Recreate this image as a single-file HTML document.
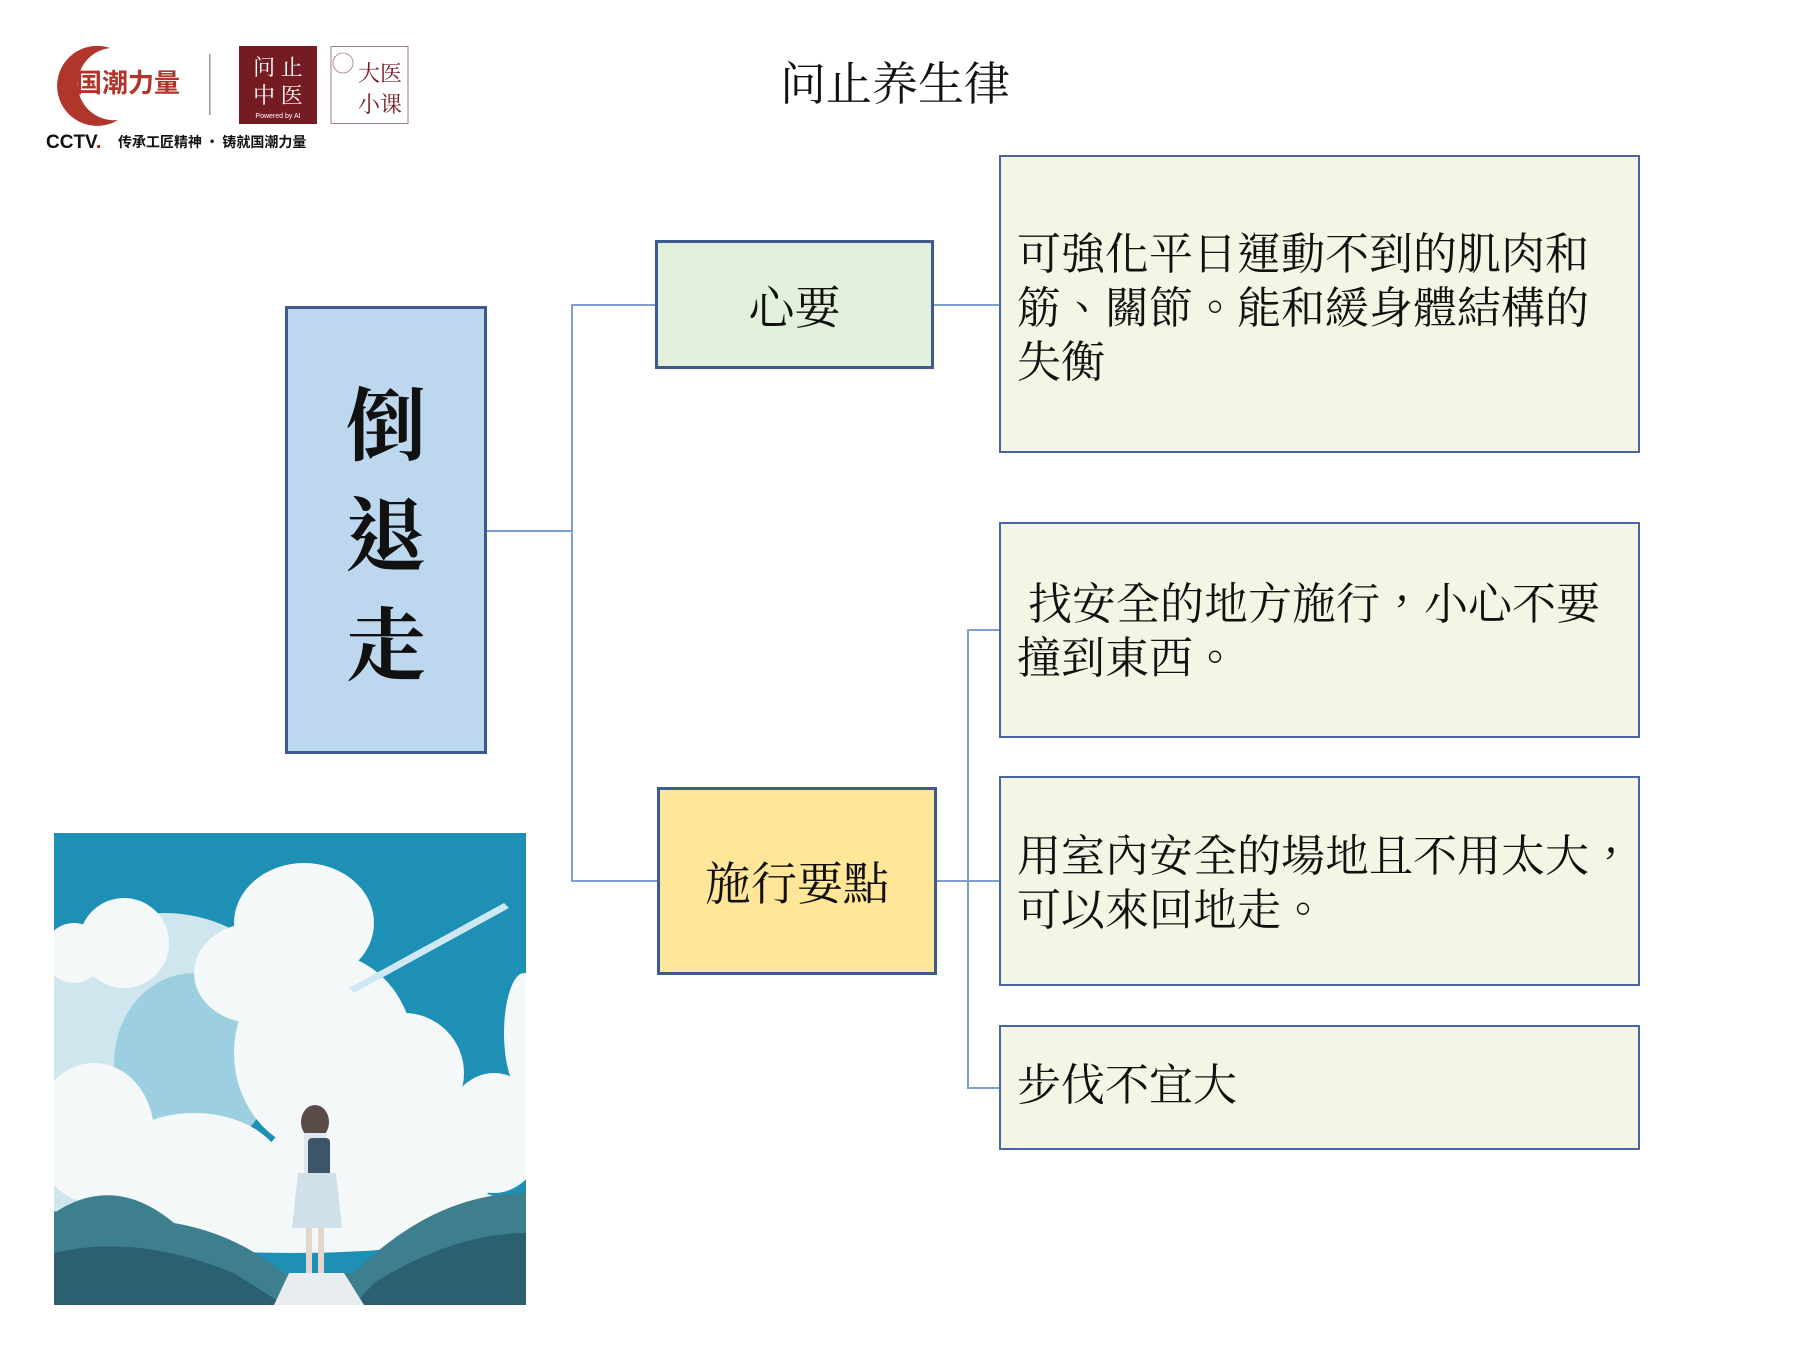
<!DOCTYPE html>
<html><head><meta charset="utf-8"><style>
body{margin:0;width:1800px;height:1350px;background:#fff;position:relative;overflow:hidden;font-family:"Liberation Serif","Noto Serif CJK TC",serif}
.a{position:absolute;box-sizing:border-box}
.box{border:3px solid #3c5a8c;display:flex;align-items:center;justify-content:center;font-size:46px;color:#111}
.r{border:2px solid #4a65a4;background:#f5f5e6;font-size:44px;line-height:54px;padding-left:16px;color:#111}
.ln{position:absolute;background:#7f9fd0}
</style></head><body>
<svg class="a" style="left:40px;top:40px" width="380" height="120" viewBox="0 0 380 120">
<path d="M70 8 A40 40 0 1 0 78 80 A34 34 0 1 1 70 8Z" fill="#b0352a"/>
<text x="36" y="52" font-size="26" font-weight="bold" fill="#b0352a" font-family="Noto Sans CJK SC,sans-serif">国潮力量</text>
<rect x="169" y="14" width="1.5" height="61" fill="#999"/>
<rect x="199" y="6" width="78" height="78" fill="#741c22"/>
<text x="238" y="35" font-size="22" fill="#fff" text-anchor="middle" font-family="Noto Serif CJK SC,serif">问 止</text>
<text x="238" y="63" font-size="22" fill="#fff" text-anchor="middle" font-family="Noto Serif CJK SC,serif">中 医</text>
<text x="238" y="78" font-size="7" fill="#fff" text-anchor="middle" font-family="Liberation Sans,sans-serif">Powered by AI</text>
<rect x="291" y="6.5" width="77" height="77" fill="#fff" stroke="#a57c80"/>
<text x="340" y="41" font-size="22" fill="#741c22" text-anchor="middle" font-family="Noto Serif CJK SC,serif">大医</text>
<text x="340" y="72" font-size="22" fill="#741c22" text-anchor="middle" font-family="Noto Serif CJK SC,serif">小课</text>
<circle cx="303" cy="23" r="10" fill="none" stroke="#a57c80" stroke-width="0.8"/>
<text x="6" y="108" font-size="19" font-weight="bold" fill="#111" font-family="Liberation Sans,sans-serif">CCTV<tspan fill="#c00">.</tspan></text>
<text x="78" y="107" font-size="14" font-weight="bold" fill="#111" font-family="Noto Sans CJK SC,sans-serif">传承工匠精神 · 铸就国潮力量</text>
</svg>
<div class="a" style="left:775px;top:48px;width:240px;text-align:center;font-size:46px;font-family:'Noto Serif CJK SC',serif;color:#111">问止养生律</div>

<div class="ln" style="left:486px;top:530px;width:85px;height:1.5px"></div>
<div class="ln" style="left:571px;top:304px;width:1.5px;height:577px"></div>
<div class="ln" style="left:571px;top:304px;width:85px;height:1.5px"></div>
<div class="ln" style="left:571px;top:880px;width:87px;height:1.5px"></div>
<div class="ln" style="left:933px;top:304px;width:66px;height:1.5px"></div>
<div class="ln" style="left:936px;top:880px;width:31px;height:1.5px"></div>
<div class="ln" style="left:967px;top:629px;width:1.5px;height:459px"></div>
<div class="ln" style="left:967px;top:629px;width:32px;height:1.5px"></div>
<div class="ln" style="left:967px;top:880px;width:32px;height:1.5px"></div>
<div class="ln" style="left:967px;top:1087px;width:32px;height:1.5px"></div>

<div class="a box" style="left:285px;top:306px;width:202px;height:448px;background:#bdd7ee;flex-direction:column;font-size:80px;font-weight:bold;line-height:110px;font-family:'Noto Serif CJK TC',serif">倒<br>退<br>走</div>
<div class="a box" style="left:655px;top:240px;width:279px;height:129px;background:#e2efda">心要</div>
<div class="a box" style="left:657px;top:787px;width:280px;height:188px;background:#ffe699">施行要點</div>

<div class="a r" style="left:999px;top:155px;width:641px;height:298px;padding-top:71px">可強化平日運動不到的肌肉和<br>筋、關節。能和緩身體結構的<br>失衡</div>
<div class="a r" style="left:999px;top:522px;width:641px;height:216px;padding-top:54px">&nbsp;找安全的地方施行，小心不要<br>撞到東西。</div>
<div class="a r" style="left:999px;top:776px;width:641px;height:210px;padding-top:52px;white-space:nowrap">用室內安全的場地且不用太大，<br>可以來回地走。</div>
<div class="a r" style="left:999px;top:1025px;width:641px;height:125px;padding-top:32px">步伐不宜大</div>

<svg class="a" style="left:54px;top:833px" width="472" height="472" viewBox="0 0 472 472">
<rect width="472" height="472" fill="#1e8fb5"/>
<g fill="#cfe6ee">
<ellipse cx="110" cy="190" rx="130" ry="110"/><ellipse cx="60" cy="300" rx="120" ry="90"/>
</g>
<g fill="#9cd0e0"><ellipse cx="140" cy="230" rx="80" ry="90"/></g>
<g fill="#f4f8f9">
<ellipse cx="250" cy="90" rx="70" ry="60"/><ellipse cx="200" cy="140" rx="60" ry="50"/>
<ellipse cx="270" cy="220" rx="90" ry="100"/><ellipse cx="350" cy="240" rx="60" ry="60"/>
<ellipse cx="70" cy="110" rx="45" ry="45"/><ellipse cx="20" cy="120" rx="30" ry="30"/>
<ellipse cx="40" cy="300" rx="60" ry="70"/><ellipse cx="140" cy="340" rx="90" ry="60"/>
<ellipse cx="330" cy="330" rx="120" ry="60"/><ellipse cx="440" cy="300" rx="50" ry="60"/>
<ellipse cx="470" cy="200" rx="20" ry="60"/><ellipse cx="240" cy="380" rx="220" ry="40"/>
</g>
<path d="M295 155 L450 70 L455 75 L300 160Z" fill="#cde8f0"/>
<ellipse cx="261" cy="289" rx="14" ry="17" fill="#5a4a48"/>
<rect x="250" y="300" width="22" height="50" fill="#e0e8ef"/>
<rect x="254" y="305" width="22" height="42" rx="4" fill="#3d5566"/>
<path d="M244 340 L282 340 L288 395 L238 395Z" fill="#cfe0ea"/>
<rect x="252" y="395" width="6" height="50" fill="#e3d6cc"/><rect x="264" y="395" width="6" height="48" fill="#e3d6cc"/>
<path d="M0 472 L0 380 Q60 340 120 390 Q180 400 230 440 L300 440 Q380 360 472 360 L472 472Z" fill="#3d7f8e"/>
<path d="M0 472 L0 420 Q80 400 180 440 L230 472Z M472 472 L472 400 Q400 400 320 450 L300 472Z" fill="#2a6070"/>
<path d="M220 472 L235 440 L290 440 L310 472Z" fill="#e8eef0"/>
</svg>
</body></html>
